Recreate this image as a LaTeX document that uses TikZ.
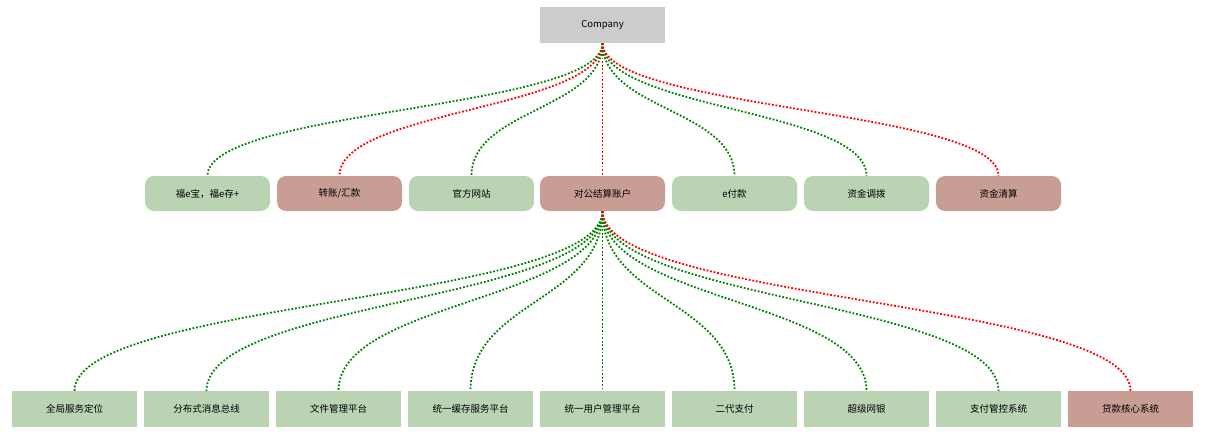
\documentclass[tikz,border=0pt]{standalone}
\usepackage{fontspec}
\setmainfont{Noto Sans CJK SC}
\definecolor{gbox}{HTML}{BAD3B2}
\definecolor{rbox}{HTML}{C89D93}
\definecolor{cbox}{HTML}{CCCCCC}
\definecolor{glink}{HTML}{008000}
\definecolor{rlink}{HTML}{FF0000}
\begin{document}
\begin{tikzpicture}[x=1pt,y=-1pt,
  box/.style={minimum width=125pt,minimum height=35pt,inner sep=0pt,font=\fontsize{9.5}{11}\selectfont,text=black},
  sq/.style={box,fill=gbox},
  rsq/.style={box,fill=rbox},
  gr/.style={box,fill=gbox,rounded corners=9pt},
  rr/.style={box,fill=rbox,rounded corners=9pt},
  lnk/.style={line width=1.8pt,dash pattern=on 1.8pt off 1.8pt},
  gl/.style={lnk,glink},
  rl/.style={lnk,rlink}]
\useasboundingbox (0,0) rectangle (1208,436);
\node[box,fill=cbox,minimum height=36pt] (c) at (602.5,25) {Company};
\node[gr] (m1) at (207.5,193.5) {福e宝，福e存+};
\node[rr] (m2) at (339.5,193.5) {转账/汇款};
\node[gr] (m3) at (471.5,193.5) {官方网站};
\node[rr] (m4) at (602.5,193.5) {对公结算账户};
\node[gr] (m5) at (734.5,193.5) {e付款};
\node[gr] (m6) at (866.5,193.5) {资金调拨};
\node[rr] (m7) at (998.5,193.5) {资金清算};
\node[sq,minimum height=36pt] (b1) at (74.5,409) {全局服务定位};
\node[sq,minimum height=36pt] (b2) at (206.5,409) {分布式消息总线};
\node[sq,minimum height=36pt] (b3) at (338.5,409) {文件管理平台};
\node[sq,minimum height=36pt] (b4) at (470.5,409) {统一缓存服务平台};
\node[sq,minimum height=36pt] (b5) at (602.5,409) {统一用户管理平台};
\node[sq,minimum height=36pt] (b6) at (734.5,409) {二代支付};
\node[sq,minimum height=36pt] (b7) at (866.5,409) {超级网银};
\node[sq,minimum height=36pt] (b8) at (998.5,409) {支付管控系统};
\node[rsq,minimum height=36pt] (b9) at (1130.5,409) {贷款核心系统};
\foreach \t/\s in {m1/gl,m2/rl,m3/gl,m4/rl,m5/gl,m6/gl,m7/rl}{
  \draw[\s] (c.south) .. controls ([yshift=-66.5pt]c.south) and ([yshift=66.5pt]\t.north) .. (\t.north);
}
\foreach \t/\s in {b1/gl,b2/gl,b3/gl,b4/gl,b5/gl,b6/gl,b7/gl,b8/gl,b9/rl}{
  \draw[\s] (m4.south) .. controls ([yshift=-90pt]m4.south) and ([yshift=90pt]\t.north) .. (\t.north);
}
\end{tikzpicture}
\end{document}
